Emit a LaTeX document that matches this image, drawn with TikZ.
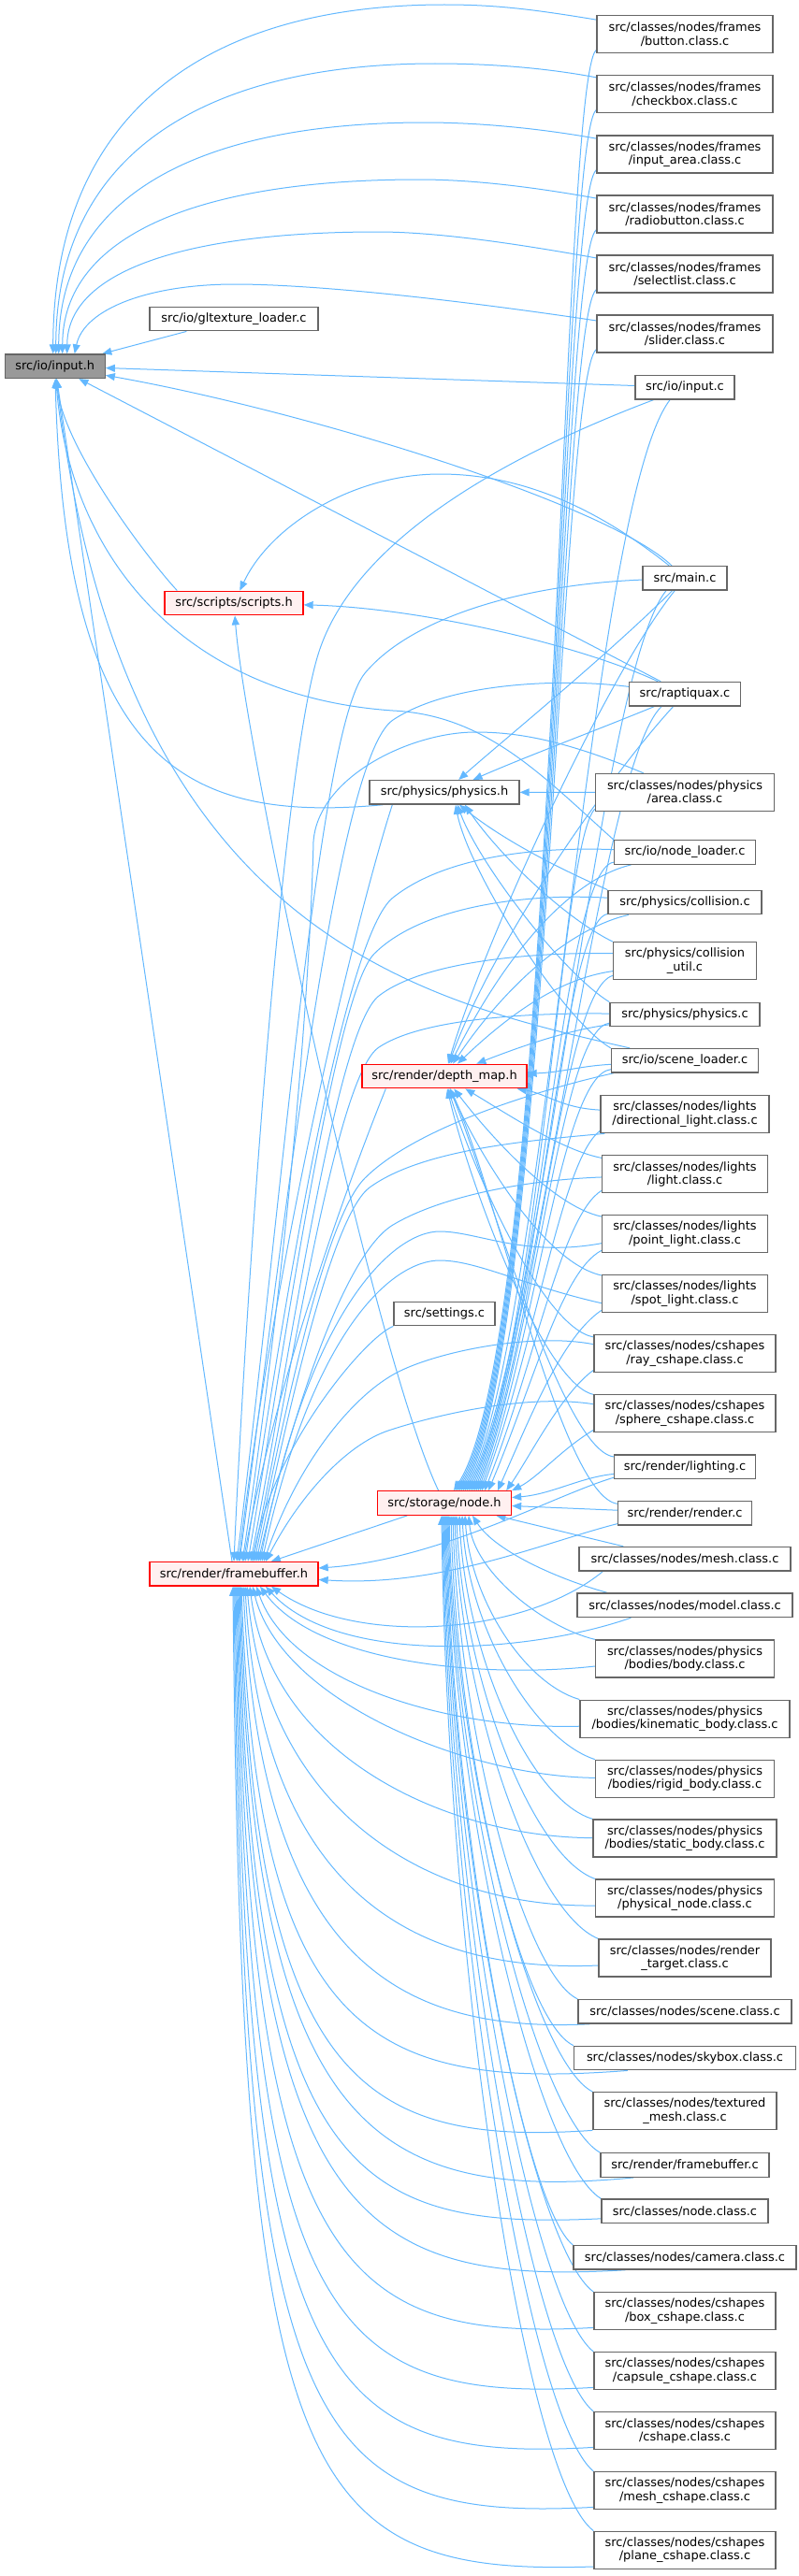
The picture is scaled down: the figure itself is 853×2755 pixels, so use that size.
\documentclass[tikz,border=0pt]{standalone}
\usepackage{fontspec}
\setmainfont{DejaVu Sans}
\usetikzlibrary{arrows.meta,calc,backgrounds}
\definecolor{edgeblue}{HTML}{63B8FF}
\definecolor{boxgray}{HTML}{666666}
\definecolor{rootgray}{HTML}{999999}
\definecolor{hlred}{HTML}{FF0000}
\definecolor{hlfill}{HTML}{FFF0F0}
\newcommand{\dxfont}{\fontsize{9.7pt}{10.7pt}\selectfont}
\begin{document}
\begin{tikzpicture}[x=0.75pt,y=-0.75pt,
  nb/.style={draw=boxgray,line width=1pt,fill=white,inner sep=0pt,align=center,font=\dxfont,minimum height=25.5*0.75pt},
  tw/.style={minimum height=40*0.75pt},
  hl/.style={draw=hlred,fill=hlfill},
  rootn/.style={fill=rootgray},
  wd/.style={minimum width=#1*0.75pt},
  ed/.style={draw=edgeblue,line width=0.75pt,-{Triangle[length=7.5pt,width=6pt]}}]
\useasboundingbox (0,0) rectangle (853,2755);
% left / middle nodes
\node[nb,rootn,wd=107] (inh) at (58.7,391.7) {src/io/input.h};
\node[nb,wd=180] (glt) at (250,341) {src/io/gltexture\_loader.c};
\node[nb,hl,wd=148] (scr) at (250,645) {src/scripts/scripts.h};
\node[nb,hl,wd=180] (fbh) at (250,1683.3) {src/render/framebuffer.h};
\node[nb,wd=160] (phy) at (475,847.3) {src/physics/physics.h};
\node[nb,hl,wd=176] (dmp) at (475,1151) {src/render/depth\_map.h};
\node[nb,wd=108] (set) at (475,1405) {src/settings.c};
\node[nb,hl,wd=143] (nod) at (475,1607.5) {src/storage/node.h};
% right column
\node[nb,tw,wd=188] (btn) at (732,36.7) {src/classes/nodes/frames\\/button.class.c};
\node[nb,tw,wd=188] (chk) at (732,100.7) {src/classes/nodes/frames\\/checkbox.class.c};
\node[nb,tw,wd=188] (ina) at (732,165) {src/classes/nodes/frames\\/input\_area.class.c};
\node[nb,tw,wd=188] (rad) at (732,229) {src/classes/nodes/frames\\/radiobutton.class.c};
\node[nb,tw,wd=188] (sel) at (732,293) {src/classes/nodes/frames\\/selectlist.class.c};
\node[nb,tw,wd=188] (sld) at (732,357) {src/classes/nodes/frames\\/slider.class.c};
\node[nb,wd=106] (inc) at (732,414.3) {src/io/input.c};
\node[nb,wd=90] (mnc) at (732,618.3) {src/main.c};
\node[nb,wd=119] (rpt) at (732,742.2) {src/raptiquax.c};
\node[nb,tw,wd=191] (area) at (732,847.5) {src/classes/nodes/physics\\/area.class.c};
\node[nb,wd=151] (nld) at (732,911.5) {src/io/node\_loader.c};
\node[nb,wd=164] (col) at (732,965) {src/physics/collision.c};
\node[nb,tw,wd=153] (colu) at (732,1027.7) {src/physics/collision\\\_util.c};
\node[nb,wd=160] (phc) at (732,1085) {src/physics/physics.c};
\node[nb,wd=157] (scl) at (732,1134.3) {src/io/scene\_loader.c};
\node[nb,tw,wd=180] (dir) at (732,1191.7) {src/classes/nodes/lights\\/directional\_light.class.c};
\node[nb,tw,wd=177] (lgt) at (732,1255.7) {src/classes/nodes/lights\\/light.class.c};
\node[nb,tw,wd=177] (pnt) at (732,1319.7) {src/classes/nodes/lights\\/point\_light.class.c};
\node[nb,tw,wd=177] (spt) at (732,1383.7) {src/classes/nodes/lights\\/spot\_light.class.c};
\node[nb,tw,wd=194] (ray) at (732,1447.7) {src/classes/nodes/cshapes\\/ray\_cshape.class.c};
\node[nb,tw,wd=194] (sph) at (732,1511.7) {src/classes/nodes/cshapes\\/sphere\_cshape.class.c};
\node[nb,wd=151] (lgc) at (732,1568.8) {src/render/lighting.c};
\node[nb,wd=143] (rnd) at (732,1618.2) {src/render/render.c};
\node[nb,wd=226] (msh) at (732,1667.2) {src/classes/nodes/mesh.class.c};
\node[nb,wd=230] (mdl) at (732,1716.8) {src/classes/nodes/model.class.c};
\node[nb,tw,wd=191] (bdy) at (732,1774) {src/classes/nodes/physics\\/bodies/body.class.c};
\node[nb,tw,wd=224] (kin) at (732,1838.2) {src/classes/nodes/physics\\/bodies/kinematic\_body.class.c};
\node[nb,tw,wd=191] (rig) at (732,1902.3) {src/classes/nodes/physics\\/bodies/rigid\_body.class.c};
\node[nb,tw,wd=196] (stc) at (732,1966) {src/classes/nodes/physics\\/bodies/static\_body.class.c};
\node[nb,tw,wd=191] (pnd) at (732,2030) {src/classes/nodes/physics\\/physical\_node.class.c};
\node[nb,tw,wd=184] (rtg) at (732,2094) {src/classes/nodes/render\\\_target.class.c};
\node[nb,wd=228] (scn) at (732,2151.3) {src/classes/nodes/scene.class.c};
\node[nb,wd=237] (sky) at (732,2201) {src/classes/nodes/skybox.class.c};
\node[nb,tw,wd=196] (txm) at (732,2257.7) {src/classes/nodes/textured\\\_mesh.class.c};
\node[nb,wd=180] (fbc) at (732,2315.5) {src/render/framebuffer.c};
\node[nb,wd=178] (ncl) at (732,2364.8) {src/classes/node.class.c};
\node[nb,wd=238] (cam) at (732,2414.3) {src/classes/nodes/camera.class.c};
\node[nb,tw,wd=194] (box) at (732,2471.7) {src/classes/nodes/cshapes\\/box\_cshape.class.c};
\node[nb,tw,wd=194] (cap) at (732,2535.7) {src/classes/nodes/cshapes\\/capsule\_cshape.class.c};
\node[nb,tw,wd=194] (csh) at (732,2599.7) {src/classes/nodes/cshapes\\/cshape.class.c};
\node[nb,tw,wd=194] (mcs) at (732,2663.7) {src/classes/nodes/cshapes\\/mesh\_cshape.class.c};
\node[nb,tw,wd=194] (pln) at (732,2727.3) {src/classes/nodes/cshapes\\/plane\_cshape.class.c};

\begin{scope}[on background layer]
% ---- to input.h
\draw[ed] (btn) .. controls (570,10) and (530,5) .. (475,5) .. controls (216,5) and (57,125) .. ($(inh.north)+(-2,0)$);
\draw[ed] (chk) .. controls (580,72) and (520,68) .. (465,68) .. controls (214,68) and (60,168) .. ($(inh.north)+(1,0)$);
\draw[ed] (ina) .. controls (575,137) and (510,131) .. (454,131) .. controls (212,131) and (63,210) .. ($(inh.north)+(4,0)$);
\draw[ed] (rad) .. controls (570,200) and (505,192) .. (448,192) .. controls (212,192) and (67,252) .. ($(inh.north)+(8,0)$);
\draw[ed] (sel) .. controls (560,262) and (470,248) .. (404,248) .. controls (198,248) and (72,290) .. ($(inh.north)+(13,0)$);
\draw[ed] (sld) .. controls (450,315) and (320,304) .. (251,304) .. controls (160,304) and (90,330) .. ($(inh.north)+(21,0)$);
\draw[ed] (glt) -- (inh);
\draw[ed] (inc) -- (inh);
\draw[ed] (mnc) .. controls (650,540) and (330,440) .. (inh);
\draw[ed] (rpt) -- (inh);
\draw[ed] ($(scr.north west)+(14,0)$) .. controls (160,600) and (68,480) .. (inh);
\draw[ed] ($(phy.south west)+(15,0)$) .. controls (200,880) and (70,820) .. (inh);
\draw[ed] (fbh) -- (inh);
\draw[ed] (nld.north west) .. controls (580,830) and (520,765) .. (420,760) .. controls (200,745) and (75,600) .. (inh);
\draw[ed] (scl) .. controls (450,1070) and (130,1000) .. (inh);
% ---- to scripts.h
\draw[ed] (mnc) .. controls (640,545) and (560,507) .. (470,507) .. controls (380,507) and (290,560) .. (scr);
\draw[ed] (rpt) .. controls (620,690) and (450,650) .. (scr);
\draw[ed] (nod) .. controls (400,1450) and (262,800) .. (scr);
% ---- to physics.h
\draw[ed] (mnc) .. controls (650,700) and (540,790) .. (phy);
\draw[ed] (rpt) .. controls (640,780) and (560,810) .. (phy);
\draw[ed] (area) -- (phy);
\draw[ed] (col.north west) .. controls (600,930) and (540,900) .. ($(phy.south)+(16,0)$);
\draw[ed] (colu.north west) .. controls (600,980) and (530,910) .. ($(phy.south)+(22,0)$);
\draw[ed] (phc.north west) .. controls (600,1040) and (510,920) .. ($(phy.south)+(14,0)$);
\draw[ed] (scl.north west) .. controls (600,1090) and (500,930) .. ($(phy.south)+(12,0)$);
% ---- to depth_map.h
\draw[ed] (mnc) .. controls (650,720) and (520,1000) .. (dmp);
\draw[ed] (rpt) .. controls (660,820) and (530,1000) .. (dmp);
\draw[ed] (nld) .. controls (610,940) and (540,1020) .. (dmp);
\draw[ed] (col) .. controls (620,990) and (550,1040) .. (dmp);
\draw[ed] (colu) .. controls (610,1045) and (560,1070) .. (dmp);
\draw[ed] (phc) .. controls (620,1100) and (580,1110) .. (dmp);
\draw[ed] (scl) .. controls (620,1140) and (600,1147) .. (dmp);
\draw[ed] (dir) .. controls (600,1185) and (585,1170) .. (dmp);
\draw[ed] (lgt) .. controls (600,1230) and (540,1190) .. (dmp);
\draw[ed] (pnt) .. controls (590,1290) and (520,1210) .. (dmp);
\draw[ed] (spt) .. controls (580,1350) and (510,1230) .. (dmp);
\draw[ed] (ray) .. controls (580,1420) and (505,1250) .. (dmp);
\draw[ed] (sph) .. controls (580,1480) and (500,1260) .. (dmp);
\draw[ed] (lgc) .. controls (600,1550) and (520,1260) .. (dmp);
\draw[ed] (rnd) .. controls (600,1600) and (530,1270) .. (dmp);
% ---- to node.h (from above)
\draw[ed] ($(btn.south west)+(0,-4)$) .. controls (598,87) and (596,1420) .. ($(nod.north)+(10,0)$);
\draw[ed] ($(chk.south west)+(0,-4)$) .. controls (598,151) and (594,1420) .. ($(nod.north)+(12,0)$);
\draw[ed] ($(ina.south west)+(0,-4)$) .. controls (598,215) and (592,1420) .. ($(nod.north)+(14,0)$);
\draw[ed] ($(rad.south west)+(0,-4)$) .. controls (598,279) and (590,1420) .. ($(nod.north)+(16,0)$);
\draw[ed] ($(sel.south west)+(0,-4)$) .. controls (598,343) and (588,1420) .. ($(nod.north)+(18,0)$);
\draw[ed] ($(sld.south west)+(0,-4)$) .. controls (598,407) and (586,1420) .. ($(nod.north)+(20,0)$);
\draw[ed] ($(inc.south)+(-16,0)$) .. controls (630,540) and (584,1420) .. ($(nod.north)+(22,0)$);
\draw[ed] ($(mnc.south)+(-20,0)$) .. controls (640,720) and (582,1420) .. ($(nod.north)+(24,0)$);
\draw[ed] ($(rpt.south)+(-25,0)$) .. controls (640,820) and (580,1420) .. ($(nod.north)+(26,0)$);
\draw[ed] ($(area.south west)+(0,-3)$) .. controls (600,900) and (578,1420) .. ($(nod.north)+(28,0)$);
\draw[ed] (nld) .. controls (600,930) and (577,1420) .. ($(nod.north)+(30,0)$);
\draw[ed] (col) .. controls (600,985) and (576,1420) .. ($(nod.north)+(32,0)$);
\draw[ed] ($(colu.south west)+(0,-5)$) .. controls (600,1060) and (575,1420) .. ($(nod.north)+(34,0)$);
\draw[ed] (phc) .. controls (600,1100) and (574,1420) .. ($(nod.north)+(36,0)$);
\draw[ed] (scl) .. controls (600,1150) and (573,1430) .. ($(nod.north)+(38,0)$);
\draw[ed] ($(dir.south west)+(0,-3)$) .. controls (600,1240) and (572,1440) .. ($(nod.north)+(40,0)$);
\draw[ed] ($(lgt.south west)+(0,-3)$) .. controls (600,1300) and (571,1460) .. ($(nod.north)+(43,0)$);
\draw[ed] ($(pnt.south west)+(0,-3)$) .. controls (600,1360) and (570,1480) .. ($(nod.north)+(47,0)$);
\draw[ed] ($(spt.south west)+(0,-3)$) .. controls (600,1430) and (565,1520) .. ($(nod.north)+(57,0)$);
\draw[ed] ($(ray.south west)+(0,-3)$) .. controls (600,1490) and (565,1560) .. ($(nod.north east)+(-6,0)$);
\draw[ed] ($(sph.south west)+(0,-3)$) .. controls (600,1550) and (575,1580) .. (nod.north east);
\draw[ed] (lgc) .. controls (620,1580) and (590,1598) .. (nod);
\draw[ed] (rnd) -- (nod);
% ---- to node.h (from below)
\draw[ed] ($(msh.north west)+(48,0)$) -- (nod);
\draw[ed] ($(mdl.north west)+(33,0)$) .. controls (600,1690) and (530,1660) .. ($(nod.south)+(30,0)$);
\draw[ed] (bdy.north west) .. controls (580,1740) and (506,1680) .. ($(nod.south)+(26,0)$);
\draw[ed] (kin.north west) .. controls (560,1800) and (503,1710) .. ($(nod.south)+(22,0)$);
\draw[ed] (rig.north west) .. controls (570,1860) and (500,1740) .. ($(nod.south)+(19,0)$);
\draw[ed] (stc.north west) .. controls (565,1925) and (497,1765) .. ($(nod.south)+(16,0)$);
\draw[ed] (pnd.north west) .. controls (568,1985) and (494,1790) .. ($(nod.south)+(13,0)$);
\draw[ed] (rtg.north west) .. controls (570,2045) and (492,1820) .. ($(nod.south)+(11,0)$);
\draw[ed] (scn.north west) .. controls (560,2110) and (490,1850) .. ($(nod.south)+(9,0)$);
\draw[ed] (sky.north west) .. controls (555,2160) and (488,1870) .. ($(nod.south)+(7,0)$);
\draw[ed] (txm.north west) .. controls (570,2205) and (486,1890) .. ($(nod.south)+(5,0)$);
\draw[ed] (fbc.north west) .. controls (575,2265) and (485,1920) .. ($(nod.south)+(4,0)$);
\draw[ed] (ncl.north west) .. controls (575,2310) and (484,1940) .. ($(nod.south)+(3,0)$);
\draw[ed] (cam.north west) .. controls (560,2360) and (483,1960) .. ($(nod.south)+(2,0)$);
\draw[ed] (box.north west) .. controls (570,2405) and (482,1990) .. ($(nod.south)+(1,0)$);
\draw[ed] (cap.north west) .. controls (570,2465) and (481,2010) .. ($(nod.south)+(0,0)$);
\draw[ed] (csh.north west) .. controls (568,2525) and (480,2040) .. ($(nod.south)+(-1,0)$);
\draw[ed] (mcs.north west) .. controls (565,2585) and (479,2070) .. ($(nod.south)+(-2,0)$);
\draw[ed] (pln.north west) .. controls (560,2650) and (478,2100) .. ($(nod.south)+(-3,0)$);
% ---- to framebuffer.h (from above)
\draw[ed] ($(inc.south west)+(20,0)$) .. controls (560,480) and (380,570) .. (340,700) .. controls (300,830) and (262,1400) .. (fbh.north);
\draw[ed] (mnc) .. controls (560,625) and (440,660) .. (390,720) .. controls (340,780) and (300,1300) .. ($(fbh.north)+(3,0)$);
\draw[ed] (rpt) .. controls (600,725) and (480,730) .. (420,770) .. controls (360,810) and (305,1300) .. ($(fbh.north)+(6,0)$);
\draw[ed] ($(area.north west)+(52,0)$) .. controls (600,790) and (550,783) .. (508,783) .. controls (440,783) and (340,830) .. (335,900) .. controls (330,1100) and (300,1400) .. ($(fbh.north)+(9,0)$);
\draw[ed] (nld) .. controls (560,905) and (470,920) .. (420,960) .. controls (370,1000) and (310,1350) .. ($(fbh.north)+(12,0)$);
\draw[ed] (col) .. controls (560,955) and (450,970) .. (400,1020) .. controls (360,1060) and (310,1400) .. ($(fbh.north)+(15,0)$);
\draw[ed] ($(colu.west)+(0,-8)$) .. controls (560,1018) and (450,1030) .. (405,1065) .. controls (360,1100) and (315,1420) .. ($(fbh.north)+(18,0)$);
\draw[ed] (phc) .. controls (560,1083) and (450,1090) .. (405,1120) .. controls (360,1150) and (315,1450) .. ($(fbh.north)+(20,0)$);
\draw[ed] ($(scl.south west)+(3,0)$) .. controls (600,1160) and (450,1200) .. (390,1260) .. controls (350,1300) and (310,1480) .. ($(fbh.north)+(22,0)$);
\draw[ed] ($(dir.south west)+(5,0)$) .. controls (560,1220) and (450,1230) .. (395,1270) .. controls (355,1300) and (310,1500) .. ($(fbh.north)+(24,0)$);
\draw[ed] (lgt) .. controls (560,1262) and (470,1280) .. (420,1310) .. controls (370,1340) and (315,1500) .. ($(fbh.north)+(26,0)$);
\draw[ed] ($(pnt.west)+(0,10)$) .. controls (560,1345) and (510,1317) .. (470,1317) .. controls (420,1317) and (330,1400) .. ($(fbh.north)+(28,0)$);
\draw[ed] ($(spt.west)+(0,10)$) .. controls (560,1375) and (510,1348) .. (470,1348) .. controls (420,1348) and (335,1420) .. ($(fbh.north)+(30,0)$);
\draw[ed] ($(ray.west)+(0,-10)$) .. controls (570,1425) and (470,1445) .. (426,1467) .. controls (380,1490) and (320,1560) .. ($(fbh.north)+(32,0)$);
\draw[ed] ($(sph.west)+(0,-10)$) .. controls (560,1490) and (460,1515) .. (415,1530) .. controls (370,1545) and (320,1600) .. ($(fbh.north)+(34,0)$);
\draw[ed] (set.south west) .. controls (390,1430) and (290,1550) .. ($(fbh.north)+(20,0)$);
\draw[ed] ($(dmp.south west)+(26,0)$) .. controls (390,1220) and (300,1450) .. ($(fbh.north)+(10,0)$);
\draw[ed] (nod) -- (fbh);
\draw[ed] ($(phy.south west)+(25,0)$) .. controls (390,950) and (300,1300) .. ($(fbh.north)+(5,0)$);
% ---- to framebuffer.h (from the right)
\draw[ed] ($(lgc.south west)+(0,-2)$) .. controls (590,1600) and (470,1668) .. (fbh);
\draw[ed] ($(rnd.south west)+(0,-2)$) .. controls (580,1650) and (470,1698) .. (fbh);
% ---- to framebuffer.h (from below)
\draw[ed] ($(msh.south west)+(26,0)$) .. controls (560,1750) and (380,1760) .. ($(fbh.south)+(40,0)$);
\draw[ed] ($(mdl.south west)+(58,0)$) .. controls (560,1770) and (360,1780) .. ($(fbh.south)+(34,0)$);
\draw[ed] ($(bdy.west)+(0,8)$) .. controls (520,1795) and (340,1780) .. ($(fbh.south)+(28,0)$);
\draw[ed] ($(kin.west)+(0,8)$) .. controls (480,1850) and (310,1800) .. ($(fbh.south)+(24,0)$);
\draw[ed] (rig) .. controls (500,1900) and (300,1820) .. ($(fbh.south)+(20,0)$);
\draw[ed] (stc) .. controls (480,1965) and (290,1880) .. ($(fbh.south)+(17,0)$);
\draw[ed] ($(pnd.west)+(0,8)$) .. controls (460,2040) and (285,1940) .. ($(fbh.south)+(14,0)$);
\draw[ed] ($(rtg.west)+(0,8)$) .. controls (450,2110) and (280,2030) .. ($(fbh.south)+(12,0)$);
\draw[ed] ($(scn.south west)+(13,0)$) .. controls (420,2175) and (278,2090) .. ($(fbh.south)+(10,0)$);
\draw[ed] ($(sky.south west)+(58,0)$) .. controls (400,2235) and (275,2180) .. ($(fbh.south)+(8,0)$);
\draw[ed] (txm.south west) .. controls (390,2295) and (272,2230) .. ($(fbh.south)+(7,0)$);
\draw[ed] ($(fbc.south west)+(36,0)$) .. controls (400,2355) and (270,2280) .. ($(fbh.south)+(6,0)$);
\draw[ed] ($(ncl.west)+(0,8)$) .. controls (380,2385) and (268,2330) .. ($(fbh.south)+(5,0)$);
\draw[ed] ($(cam.south west)+(56,0)$) .. controls (380,2445) and (266,2370) .. ($(fbh.south)+(4,0)$);
\draw[ed] ($(box.south west)+(0,-3)$) .. controls (360,2505) and (265,2420) .. ($(fbh.south)+(3,0)$);
\draw[ed] ($(cap.south west)+(0,-3)$) .. controls (345,2570) and (264,2480) .. ($(fbh.south)+(2,0)$);
\draw[ed] ($(csh.south west)+(0,-3)$) .. controls (335,2635) and (262,2540) .. ($(fbh.south)+(1,0)$);
\draw[ed] ($(mcs.south west)+(0,-3)$) .. controls (325,2698) and (260,2600) .. (fbh.south);
\draw[ed] ($(pln.south west)+(0,-3)$) .. controls (320,2755) and (258,2660) .. ($(fbh.south)+(-1,0)$);
\end{scope}
\end{tikzpicture}
\end{document}
